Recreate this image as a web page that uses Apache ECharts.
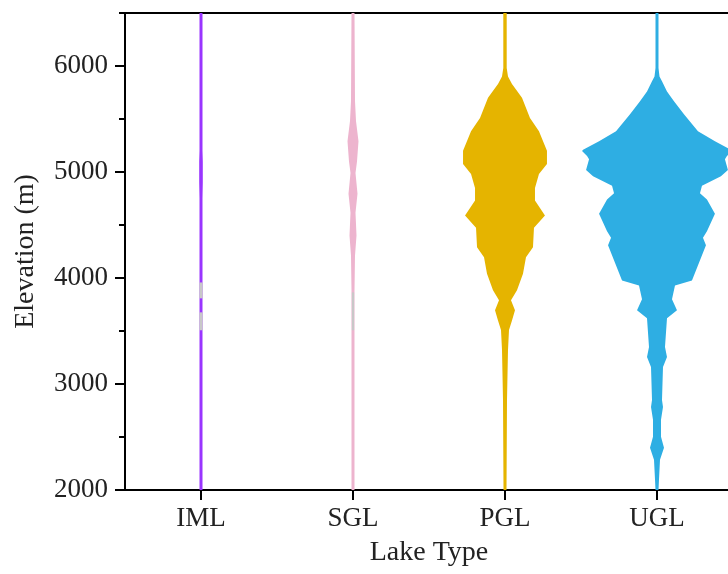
<!DOCTYPE html>
<html>
<head>
<meta charset="utf-8">
<script src="https://cdn.jsdelivr.net/npm/echarts@6/dist/echarts.min.js"></script>
<style>
html,body{margin:0;padding:0;background:#fff;}
#chart{width:728px;height:574px;}
</style>
</head>
<body>
<div id="chart"></div>
<script>
// ---- data ----
var categories = ['IML', 'SGL', 'PGL', 'UGL'];
var yTickValues = [2000, 3000, 4000, 5000, 6000];

// violin profiles: [elevation (m), relative density]
var imlProfile = [[6500,1.5],[5200,1.5],[5100,1.8],[4900,1.8],[4750,1.5],[2000,1.5]];
var sglProfile = [[6500,1.5],[5670,2],[5480,3],[5290,5.5],[5100,4],[4990,2.5],[4795,4.5],[4615,2.5],[4400,3.5],[4210,2],[3880,1.5],[2000,1.5]];
var pglProfile = [[6500,1.7],[5980,1.7],[5900,3],[5830,7],[5700,17],[5510,25],[5385,34],[5200,42],[5075,42],[4980,34],[4850,30],[4730,30],[4590,40],[4475,29],[4290,28],[4195,21],[4040,18],[3885,12],[3790,6],[3695,10],[3600,7],[3510,4],[3320,3],[2850,2],[2000,1.5]];
var uglProfile = [[6500,1.5],[5980,1.5],[5900,2.5],[5855,5],[5760,10],[5667,17],[5545,27],[5385,41],[5291,58],[5210,74],[5197,75],[5150,70],[5120,68],[5020,71],[4960,64],[4870,45],[4800,43],[4740,50],[4606,58],[4440,50],[4380,46],[4310,49],[3977,35],[3930,18],[3800,15],[3695,20],[3620,10],[3348,8],[3254,10],[3160,6],[2850,5],[2784,6],[2662,4],[2502,4],[2399,7],[2286,3],[2099,2],[2000,1.5]];
// light grey segments inside the thin violins: [from, to] elevation
var imlGrey = [[3808,3958],[3507,3676]];
var sglGrey = [[3507,3864]];

// ---- styles ----
var colors = ['#9a35ff', '#edb4ce', '#e5b400', '#2eaee3'];
var greyColor = '#c8c8c8';
var FONT = 'Liberation Serif';
var profiles = [imlProfile, sglProfile, pglProfile, uglProfile];
var greys = [imlGrey, sglGrey, [], []];

function makeRender(idx) {
  return function (params, api) {
    var cat = api.value(0);
    var band = api.size([1, 0])[0];
    var k = band * 0.493 / 75;
    var prof = profiles[idx];
    var right = [], left = [];
    for (var i = 0; i < prof.length; i++) {
      var c = api.coord([cat, prof[i][0]]);
      var w = prof[i][1] * k;
      right.push([c[0] + w, c[1]]);
      left.unshift([c[0] - w, c[1]]);
    }
    var children = [{
      type: 'polygon',
      shape: { points: right.concat(left) },
      style: { fill: colors[idx], stroke: null }
    }];
    var g = greys[idx];
    for (var j = 0; j < g.length; j++) {
      var a = api.coord([cat, g[j][1]]);
      var b = api.coord([cat, g[j][0]]);
      var hw = idx === 1 ? 1.1 : 1.6;
      children.push({
        type: 'rect',
        shape: { x: a[0] - hw, y: a[1], width: hw * 2, height: b[1] - a[1] },
        style: { fill: greyColor }
      });
    }
    return { type: 'group', children: children };
  };
}

var series = categories.map(function (name, idx) {
  return {
    type: 'custom',
    name: name,
    xAxisIndex: 0,
    yAxisIndex: 0,
    renderItem: makeRender(idx),
    data: [[idx]],
    encode: { x: 0 },
    clip: false,
    silent: true
  };
});

var axisLineStyle = { color: '#000', width: 2 };
var labelStyle = { fontFamily: FONT, fontSize: 27, color: '#222' };
var titleStyle = { fontFamily: FONT, fontSize: 28, color: '#222' };

var chart = echarts.init(document.getElementById('chart'), null, { renderer: 'canvas' });
chart.setOption({
  animation: false,
  backgroundColor: '#fff',
  grid: { left: 125, top: 13, width: 608, height: 477, containLabel: false, outerBoundsMode: 'none' },
  xAxis: [{
    type: 'category',
    data: categories,
    position: 'bottom',
    boundaryGap: true,
    axisLine: { lineStyle: axisLineStyle },
    axisTick: { show: true, alignWithLabel: true, length: 10, lineStyle: axisLineStyle },
    axisLabel: Object.assign({ margin: 15 }, labelStyle),
    splitLine: { show: false },
    name: 'Lake Type',
    nameLocation: 'middle',
    nameGap: 49,
    nameTextStyle: titleStyle
  }, {
    type: 'category',
    data: categories,
    position: 'top',
    axisLine: { lineStyle: axisLineStyle },
    axisTick: { show: false },
    axisLabel: { show: false },
    splitLine: { show: false }
  }],
  yAxis: [{
    type: 'value',
    min: 2000,
    max: 6500,
    interval: 500,
    position: 'left',
    axisLine: { show: true, lineStyle: axisLineStyle },
    axisTick: { show: true, length: 6, lineStyle: axisLineStyle },
    axisLabel: { show: false },
    splitLine: { show: false },
    name: 'Elevation (m)',
    nameLocation: 'middle',
    nameRotate: 90,
    nameGap: 85,
    nameTextStyle: titleStyle
  }, {
    type: 'value',
    min: 2000,
    max: 6500,
    position: 'left',
    axisLine: { show: false },
    axisTick: { show: true, length: 10, lineStyle: axisLineStyle, customValues: yTickValues },
    axisLabel: Object.assign({ margin: 17, customValues: yTickValues, formatter: function (v) { return String(v); } }, labelStyle),
    splitLine: { show: false }
  }],
  series: series
});
</script>
</body>
</html>
